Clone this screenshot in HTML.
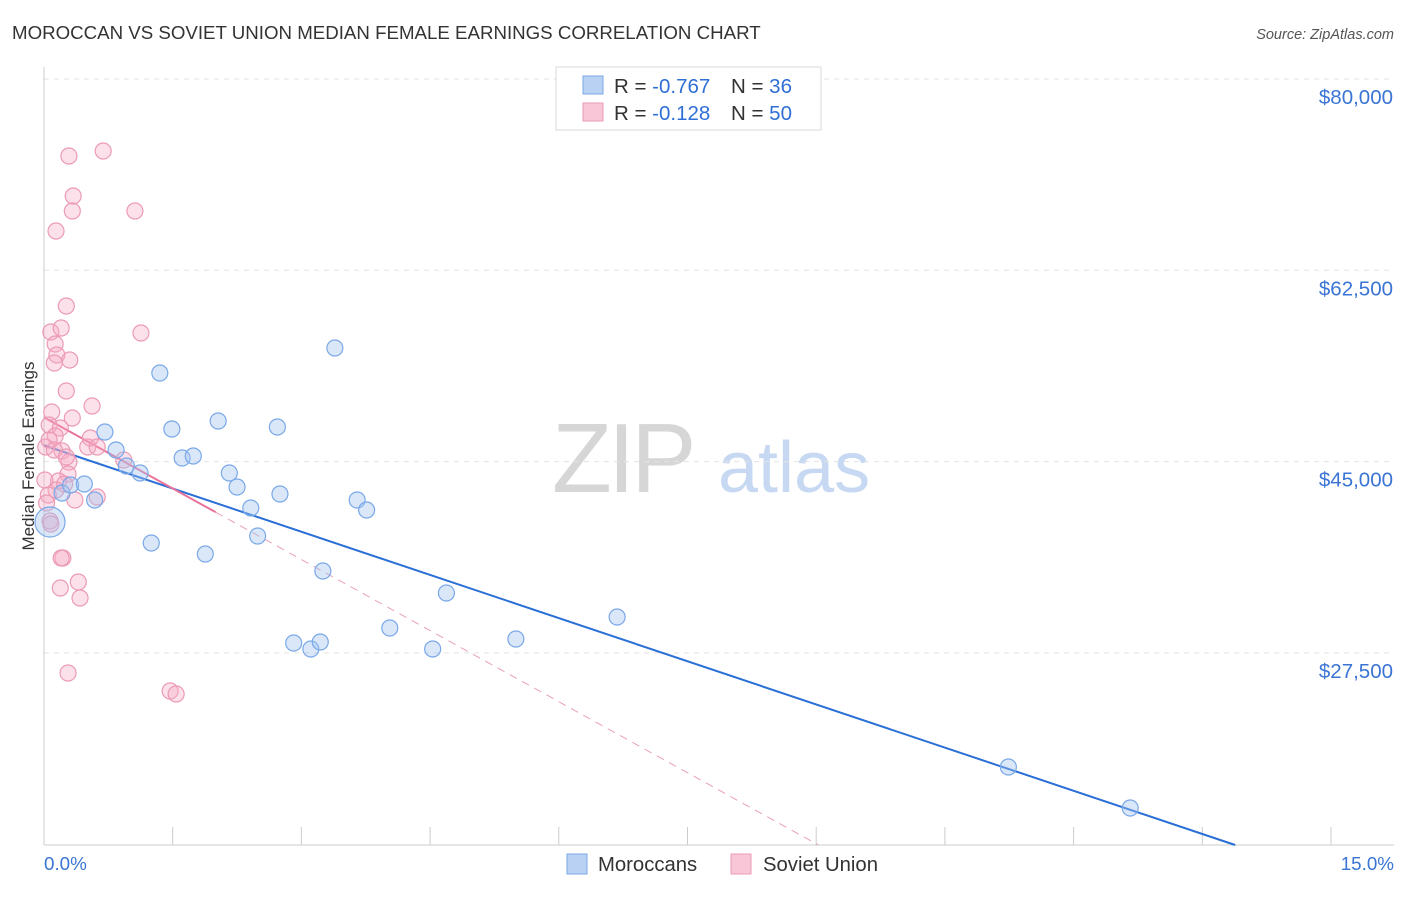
<!DOCTYPE html>
<html><head><meta charset="utf-8"><style>
body{margin:0;background:#fff;font-family:"Liberation Sans",sans-serif;}
svg text{font-family:"Liberation Sans",sans-serif;}
</style></head><body>
<svg id="chart" width="1406" height="892" viewBox="0 0 1406 892" xmlns="http://www.w3.org/2000/svg">
<text x="12" y="39" font-size="18.7" fill="#333">MOROCCAN VS SOVIET UNION MEDIAN FEMALE EARNINGS CORRELATION CHART</text>
<text x="1394" y="39" font-size="14.5" fill="#555" text-anchor="end" font-style="italic">Source: ZipAtlas.com</text>
<g>
<text x="552" y="492" font-size="98" fill="#d6d6d6" font-family="Liberation Serif" letter-spacing="-4">ZIP</text>
<text x="718" y="492" font-size="72" fill="#c7d9f2">atlas</text>
</g>
<g id="grid"></g>
<g id="axes"></g>
<g id="lines"></g>
<g id="points"></g>
<text transform="translate(34,456) rotate(-90)" font-size="17" fill="#333" text-anchor="middle">Median Female Earnings</text>
<text x="44" y="870" font-size="18.8" fill="#3a74d4">0.0%</text>
<text x="1394" y="870" font-size="18.8" fill="#3a74d4" text-anchor="end">15.0%</text>
<g>
<rect x="556" y="67" width="265" height="63" fill="#fff" stroke="#d8d8d8"/>
<rect x="583" y="76" width="20" height="18" fill="#b9d2f4" stroke="#7aa8e8"/>
<text x="614" y="93" font-size="20.5" fill="#333">R = <tspan fill="#2f6fd6">-0.767</tspan></text>
<text x="731" y="93" font-size="20.5" fill="#333">N = <tspan fill="#2f6fd6">36</tspan></text>
<rect x="583" y="103" width="20" height="18" fill="#f8c6d6" stroke="#ec9ab5"/>
<text x="614" y="120" font-size="20.5" fill="#333">R = <tspan fill="#2f6fd6">-0.128</tspan></text>
<text x="731" y="120" font-size="20.5" fill="#333">N = <tspan fill="#2f6fd6">50</tspan></text>
</g>
<g>
<rect x="567" y="854" width="20" height="20" fill="#b9d2f4" stroke="#7aa8e8"/>
<text x="598" y="871" font-size="20.3" fill="#333">Moroccans</text>
</g>
<g>
<rect x="731" y="854" width="20" height="20" fill="#f8c6d6" stroke="#ec9ab5"/>
<text x="763" y="871" font-size="20.3" fill="#333">Soviet Union</text>
</g>
</svg>
<script>
const yTicks=[27500,45000,62500,80000];
const yTickLabels=["$27,500","$45,000","$62,500","$80,000"];
const moroccoX=[0.07,0.21,0.31,0.47,0.59,0.71,0.84,0.96,1.12,1.25,1.35,1.49,1.61,1.74,1.88,2.03,2.16,2.25,2.41,2.49,2.72,2.75,2.91,3.11,3.22,3.25,3.39,3.65,3.76,4.03,4.53,4.69,5.50,6.68,11.24,12.66];
const moroccoY=[39474,42127,42859,42951,41487,47708,46061,44597,43957,37553,53105,47982,45329,45512,36547,48714,43957,42676,40755,38194,48165,42036,28405,27856,28497,34992,55392,41487,40572,29777,27856,32979,28771,30784,17062,13311];
const sovietX=[0.29,0.69,0.34,0.33,1.06,0.14,0.26,0.08,0.20,1.13,0.13,0.15,0.30,0.12,0.26,0.56,0.09,0.33,0.06,0.19,0.13,0.54,0.51,0.02,0.21,0.93,0.29,0.28,0.17,0.24,0.14,0.05,0.62,0.36,0.03,0.07,0.08,0.22,0.20,0.40,0.19,0.42,0.28,1.47,1.54,0.06,0.12,0.26,0.62,0.01];
const sovietY=[72956,73413,69297,67925,67925,66095,59234,56856,57221,56764,55758,54752,54294,54020,51458,50086,49537,48988,48348,48073,47342,47159,46335,46335,45969,45146,44963,43865,43225,42951,42402,41944,41761,41487,41212,39566,39291,36181,36181,33986,33437,32522,25661,24014,23740,46976,46061,45421,46335,43317];
const NS="http://www.w3.org/2000/svg";
const X0=44,PXP=85.8,Y80=79,PPD=191.3/17500,YB=845;
function sx(v){return X0+v*PXP;}
function sy(v){return Y80+(80000-v)*PPD;}
const yMinVal=80000-(YB-Y80)/PPD;
function mk(tag,attrs,parent){const e=document.createElementNS(NS,tag);for(const k in attrs)e.setAttribute(k,attrs[k]);parent.appendChild(e);return e;}
const grid=document.getElementById('grid'),axes=document.getElementById('axes'),lines=document.getElementById('lines'),pts=document.getElementById('points');
yTicks.forEach((t,i)=>{
 const l=mk('line',{x1:44,x2:1394,y1:sy(t),y2:sy(t),stroke:'#e3e3e3','stroke-dasharray':'5,5'},grid);
 
 
 const tx=mk('text',{x:1393,y:sy(t)+25,'font-size':20.5,fill:'#3a74d4','text-anchor':'end'},axes);
 tx.textContent=yTickLabels[i];
 
 
});
const a1=mk('line',{x1:44,x2:44,y1:67,y2:YB,stroke:'#ccc'},axes);


const a2=mk('line',{x1:44,x2:1394,y1:YB,y2:YB,stroke:'#ccc'},axes);


for(let i=1;i<=10;i++){const t=mk('line',{x1:sx(i*1.5),x2:sx(i*1.5),y1:YB,y2:YB-18,stroke:'#ccc'},axes);
 
 }
function fit(xs,ys){const n=xs.length;let mx=0,my=0;for(let i=0;i<n;i++){mx+=xs[i];my+=ys[i];}mx/=n;my/=n;let sxy=0,sxx=0;for(let i=0;i<n;i++){sxy+=(xs[i]-mx)*(ys[i]-my);sxx+=(xs[i]-mx)**2;}const b=sxy/sxx;return {a:my-b*mx,b:b};}
const fb=fit(moroccoX,moroccoY);
const xEndB=Math.min((yMinVal-fb.a)/fb.b,15.73);
const lb=mk('line',{x1:sx(0),y1:sy(fb.a),x2:sx(xEndB),y2:sy(fb.a+fb.b*xEndB),stroke:'#2a6fd6','stroke-width':2},lines);


const fs=fit(sovietX,sovietY);
const xSolid=2.0;
const xEndS=Math.min((yMinVal-fs.a)/fs.b,15.73);
const ld=mk('line',{x1:sx(xSolid),y1:sy(fs.a+fs.b*xSolid),x2:sx(xEndS),y2:sy(fs.a+fs.b*xEndS),stroke:'#e8a0b8','stroke-width':1,'stroke-dasharray':'8,6'},lines);


const ls=mk('line',{x1:sx(0),y1:sy(fs.a),x2:sx(xSolid),y2:sy(fs.a+fs.b*xSolid),stroke:'#e8729a','stroke-width':2},lines);


sovietX.forEach((x,i)=>{const c=mk('circle',{cx:sx(x),cy:sy(sovietY[i]),r:8,fill:'rgba(245,170,195,0.35)',stroke:'#ec9ab5','stroke-width':1.2},pts);
 
 });
moroccoX.forEach((x,i)=>{const c=mk('circle',{cx:sx(x),cy:sy(moroccoY[i]),r:i===0?15:8,fill:'rgba(160,195,240,0.4)',stroke:'#7aa8e8','stroke-width':1.2},pts);
 
 });
</script>
</body></html>
